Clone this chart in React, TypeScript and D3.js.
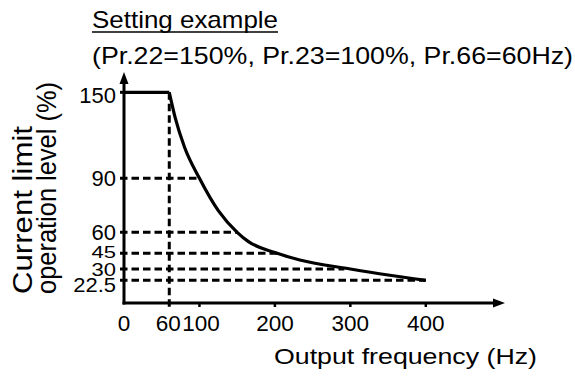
import React from 'react';
import * as d3 from 'd3';

const W = 575;
const H = 376;

// X axis ticks (Hz)
const xTicks = [0, 60, 100, 200, 300, 400];
const xTickLabels = ['0', '60', '100', '200', '300', '400'];

// Y axis levels (%)
const yLevels = [150, 90, 60, 45, 30, 22.5];
const yLabels = ['150', '90', '60', '45', '30', '22.5'];

// flat part of the limit curve
const flatFreq = [0, 60];
const flatLevel = [150, 150];

// falling part of the limit curve
const curveFreq = [60, 68, 80, 100, 125, 150, 165, 200, 233, 300, 350, 400];
const curveLevel = [150, 132, 112, 90, 72, 60, 53.3, 45.5, 38.6, 30, 26, 22.5];

// dashed guide lines: level and frequency where it meets the curve
const guideLevels = [90, 60, 45, 30, 22.5];
const guideFreqs = [100, 151, 203, 292, 400];

const titleLine1 = 'Setting example';
const titleLine2 = '(Pr.22=150%, Pr.23=100%, Pr.66=60Hz)';
const xTitle = 'Output frequency (Hz)';
const yTitle1 = 'Current limit';
const yTitle2 = 'operation level (%)';

const FONT = '"Liberation Sans", Arial, Helvetica, sans-serif';

export default function App() {
  const x = d3.scaleLinear().domain([0, 400]).range([124, 425.8]);
  // schematic (non-uniform) vertical axis
  const y = d3
    .scaleLinear()
    .domain([0, 22.5, 30, 45, 60, 90, 150])
    .range([303, 280.3, 269, 253.3, 232.3, 178.3, 92.3]);

  const x0 = x(0);
  const y0 = y(0);

  const line = d3
    .line<[number, number]>()
    .x((d) => x(d[0]))
    .y((d) => y(d[1]));
  const curveLine = d3
    .line<[number, number]>()
    .x((d) => x(d[0]))
    .y((d) => y(d[1]))
    .curve(d3.curveMonotoneX);

  const flatPts = flatFreq.map((f, i) => [f, flatLevel[i]] as [number, number]);
  const curvePts = curveFreq.map((f, i) => [f, curveLevel[i]] as [number, number]);

  const yLabelDy: Record<string, number> = { '150': 2.4, '45': -1.5, '30': 0.5, '22.5': 4.5 };
  const yLabelSy: Record<string, number> = { '45': 0.78, '30': 0.85, '22.5': 0.9 };

  const dash = '7.5,4';
  return (
    <svg
      width={W}
      height={H}
      style={{ position: 'absolute', left: 0, top: 0, background: '#fff' }}
      fontFamily={FONT}
    >
      <rect width={W} height={H} fill="#fff" />
      {/* titles */}
      <text x={92} y={28} fontSize={24} textLength={186} lengthAdjust="spacingAndGlyphs">
        {titleLine1}
      </text>
      <line x1={92} x2={278} y1={32} y2={32} stroke="#000" strokeWidth={1.5} />
      <text x={92} y={63.5} fontSize={24} textLength={481} lengthAdjust="spacingAndGlyphs">
        {titleLine2}
      </text>

      {/* dashed guides */}
      {guideLevels.map((lv, i) => (
        <line
          key={'g' + i}
          x1={x0 - 4}
          x2={x(guideFreqs[i])}
          y1={y(lv)}
          y2={y(lv)}
          stroke="#000"
          strokeWidth={3}
          strokeDasharray={dash}
        />
      ))}
      <line
        x1={x(60)}
        x2={x(60)}
        y1={y(150)}
        y2={y0 + 4}
        stroke="#000"
        strokeWidth={3}
        strokeDasharray={dash}
      />

      {/* axes */}
      <line x1={x0} x2={x0} y1={y0 + 1.5} y2={82} stroke="#000" strokeWidth={3} />
      <path d={`M${x0},72 L${x0 - 4.5},84 L${x0 + 4.5},84 Z`} fill="#000" />
      <line x1={x0 - 1.5} x2={494} y1={y0} y2={y0} stroke="#000" strokeWidth={3} />
      <path d={`M505,${y0} L493,${y0 - 4.5} L493,${y0 + 4.5} Z`} fill="#000" />
      {/* ticks */}
      {xTicks.filter((t) => t >= 100).map((t) => (
        <line key={'xt' + t} x1={x(t)} x2={x(t)} y1={y0} y2={y0 + 4} stroke="#000" strokeWidth={2.5} />
      ))}
      <line x1={x0 - 4} x2={x0} y1={y(150)} y2={y(150)} stroke="#000" strokeWidth={3} />

      {/* curve */}
      <path d={line(flatPts) || ''} fill="none" stroke="#000" strokeWidth={3.2} />
      <path d={curveLine(curvePts) || ''} fill="none" stroke="#000" strokeWidth={3.2} strokeLinejoin="round" />

      {/* x tick labels */}
      {xTicks.map((t, i) => (
        <text
          key={'xl' + t}
          x={t === 60 ? x(t) - 1 : t === 100 ? x(t) + 1.5 : x(t)}
          y={330.5}
          fontSize={22.5}
          textAnchor="middle"
        >
          {xTickLabels[i]}
        </text>
      ))}

      {/* y tick labels */}
      {yLevels.map((lv, i) => {
        const cy = y(lv) + (yLabelDy[yLabels[i]] || 0);
        const sy = yLabelSy[yLabels[i]] || 1;
        return (
          <text
            key={'yl' + i}
            transform={`translate(116,${cy}) scale(1,${sy})`}
            dy="0.36em"
            fontSize={22}
            textAnchor="end"
          >
            {yLabels[i]}
          </text>
        );
      })}

      {/* axis titles */}
      <text x={274} y={364} fontSize={22.5} textLength={263} lengthAdjust="spacingAndGlyphs">
        {xTitle}
      </text>
      <text
        transform="translate(32,294) rotate(-90)"
        fontSize={27}
        textLength={168}
        lengthAdjust="spacingAndGlyphs"
      >
        {yTitle1}
      </text>
      <text
        transform="translate(56,294) rotate(-90)"
        fontSize={27}
        textLength={212}
        lengthAdjust="spacingAndGlyphs"
      >
        {yTitle2}
      </text>
    </svg>
  );
}
